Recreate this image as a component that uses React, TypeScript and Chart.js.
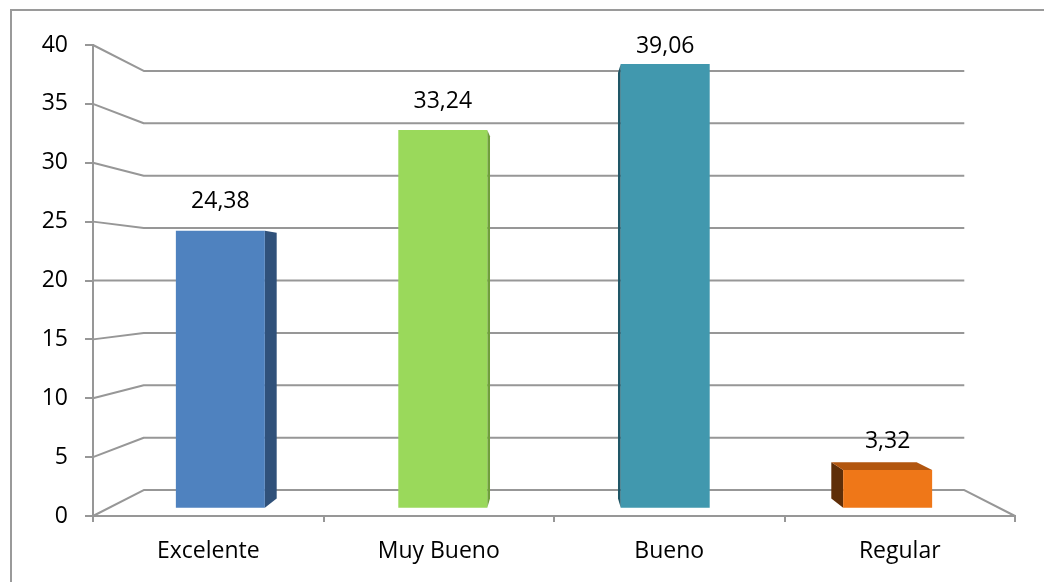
import React, { useEffect, useRef } from "react";
import { Chart, registerables } from "chart.js";

Chart.register(...registerables);

// ---- data ----
const categories = ["Excelente", "Muy Bueno", "Bueno", "Regular"];
const values = [24.38, 33.24, 39.06, 3.32];
const Y_MIN = 0;
const Y_MAX = 40;
const Y_STEP = 5;

// ---- styles ----
const frontColors = ["#4f82bf", "#9ad95b", "#4198ae", "#ef7718"];
const sideColors = ["#30517a", "#6f9f3c", "#1f5666", "#5f2e08"];
const topColors = ["#3d6698", "#80ba45", "#2f7688", "#b2560f"];
const GRID = "#979797";
const FONT = { family: "'Open Sans', Lato, sans-serif", size: 23 };

// perspective factors (relative to the front plane)
const K_BAR = 0.965; // plane of the bars' front faces
const K_BACK = 0.89; // back wall
const K_DEPTH = 0.959; // back of a bar relative to its front face

const fmt = (v: number) => v.toFixed(2).replace(".", ",");

const wallPlugin = {
  id: "wall3d",
  beforeDatasetsDraw(chart: any) {
    const { ctx, chartArea: a, scales } = chart;
    const y = scales.y;
    const cx = (a.left + a.right) / 2;
    const cy = (a.top + a.bottom) / 2;
    const bl = cx + (a.left - cx) * K_BACK;
    const br = cx + (a.right - cx) * K_BACK;
    ctx.save();
    ctx.strokeStyle = GRID;
    ctx.lineWidth = 2;
    ctx.lineJoin = "round";
    y.ticks.forEach((t: any) => {
      const yf = y.getPixelForValue(t.value);
      const yb = cy + (yf - cy) * K_BACK;
      ctx.beginPath();
      ctx.moveTo(a.left, yf);
      ctx.lineTo(bl, yb);
      ctx.lineTo(br, yb);
      if (t.value === y.min) ctx.lineTo(a.right, yf);
      ctx.stroke();
    });

    const P = (px: number, py: number) => [cx + (px - cx) * K_DEPTH, cy + (py - cy) * K_DEPTH];
    const meta = chart.getDatasetMeta(0);
    meta.data.forEach((bar: any, i: number) => {
      const { x, y: top, base, width } = bar.getProps(["x", "y", "base", "width"], true);
      const l = x - width / 2;
      const r = x + width / 2;
      const ex = x < cx ? r : l;
      const [ex2, top2] = P(ex, top);
      const [, base2] = P(ex, base);
      ctx.fillStyle = sideColors[i];
      ctx.beginPath();
      ctx.moveTo(ex, top);
      ctx.lineTo(ex2, top2);
      ctx.lineTo(ex2, base2);
      ctx.lineTo(ex, base);
      ctx.closePath();
      ctx.fill();
      if (top > cy) {
        const [l2, t2] = P(l, top);
        const [r2] = P(r, top);
        ctx.fillStyle = topColors[i];
        ctx.beginPath();
        ctx.moveTo(l, top);
        ctx.lineTo(r, top);
        ctx.lineTo(r2, t2);
        ctx.lineTo(l2, t2);
        ctx.closePath();
        ctx.fill();
      }
    });
    ctx.restore();
  },
  afterDatasetsDraw(chart: any) {
    const { ctx, chartArea: a } = chart;
    const meta = chart.getDatasetMeta(0);
    ctx.save();
    ctx.fillStyle = "#000";
    ctx.font = `${FONT.size}px ${FONT.family}`;
    ctx.textAlign = "center";
    ctx.textBaseline = "middle";
    meta.data.forEach((bar: any, i: number) => {
      const { x, y: top } = bar.getProps(["x", "y"], true);
      ctx.fillText(fmt(values[i]), x, Math.max(top - 29, a.top + 1));
    });
    ctx.restore();
  },
};

export default function App() {
  const ref = useRef<HTMLCanvasElement | null>(null);
  useEffect(() => {
    document.body.style.overflow = "hidden";
    const mid = (Y_MIN + Y_MAX) / 2;
    const half = (Y_MAX - Y_MIN) / 2;
    const n = categories.length;
    const chart = new Chart(ref.current!, {
      type: "bar",
      data: {
        labels: categories,
        datasets: [
          {
            data: values.map((v, i) => ({ x: i, y: v })),
            xAxisID: "xb",
            yAxisID: "yb",
            backgroundColor: frontColors,
            borderWidth: 0,
            barPercentage: 0.4,
            categoryPercentage: 1,
          },
        ],
      },
      options: {
        responsive: false,
        animation: false,
        layout: { padding: { top: 45, right: 29, left: 0, bottom: 0 } },
        plugins: { legend: { display: false }, tooltip: { enabled: false } },
        scales: {
          x: {
            type: "category",
            position: "bottom",
            offset: true,
            grid: { offset: true, drawOnChartArea: false, tickLength: 6, color: GRID, lineWidth: 2 },
            border: { color: GRID, width: 2 },
            ticks: { font: FONT, color: "#000", padding: 16 },
            afterFit: (s: any) => {
              s.height = 66;
            },
          },
          y: {
            type: "linear",
            position: "left",
            min: Y_MIN,
            max: Y_MAX,
            grid: { drawOnChartArea: false, tickLength: 8, color: GRID, lineWidth: 2 },
            border: { color: GRID, width: 2 },
            ticks: { stepSize: Y_STEP, font: FONT, color: "#000", padding: 17 },
            afterFit: (s: any) => {
              s.width = 93;
            },
          },
          xb: {
            type: "linear",
            display: false,
            offset: false,
            min: (n - 1) / 2 - n / 2 / K_BAR,
            max: (n - 1) / 2 + n / 2 / K_BAR,
            afterBuildTicks: (s: any) => {
              s.ticks = [{ value: s.min }, { value: s.max }];
            },
          },
          yb: {
            type: "linear",
            display: false,
            min: mid - half / K_BAR,
            max: mid + half / K_BAR,
          },
        },
      },
      plugins: [wallPlugin],
    });
    return () => chart.destroy();
  }, []);

  return (
    <div style={{ position: "fixed", left: 0, top: 0, width: 1044, height: 582, background: "#fff" }}>
      <div
        style={{
          position: "absolute",
          left: 10,
          top: 9,
          width: 1200,
          height: 800,
          border: "2px solid #9a9a9a",
          boxSizing: "border-box",
        }}
      />
      <canvas ref={ref} width={1044} height={582} style={{ position: "absolute", left: 0, top: 0 }} />
    </div>
  );
}
